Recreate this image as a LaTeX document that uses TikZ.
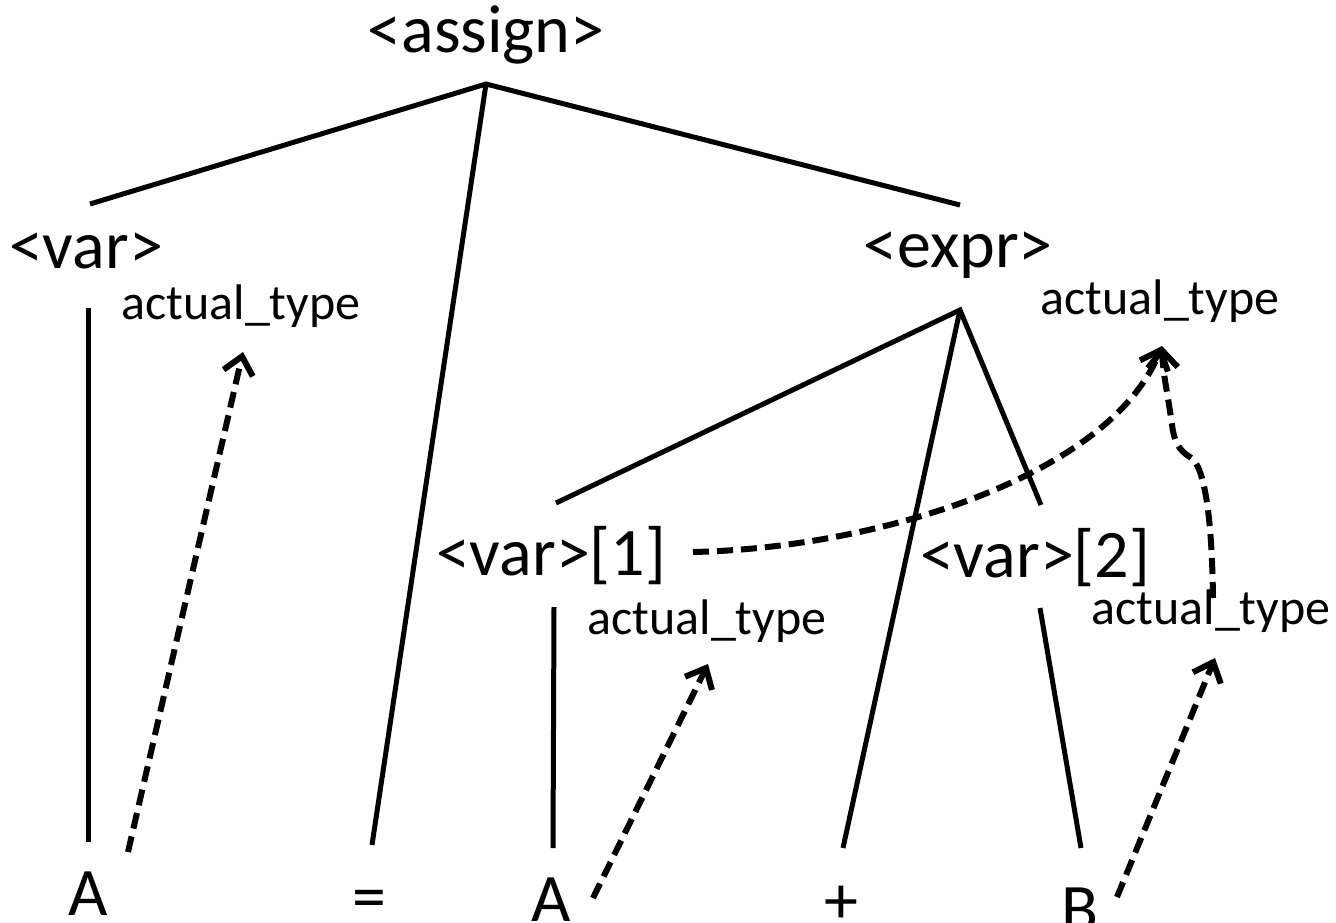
\documentclass[tikz,border=0pt]{standalone}
\usepackage{fontspec}
\setmainfont{Carlito}
\usetikzlibrary{arrows.meta}
\begin{document}
\begin{tikzpicture}[x=1pt,y=-1pt,
  big/.style={anchor=base,inner sep=0pt,font=\fontsize{68}{80}\selectfont},
  small/.style={anchor=base,inner sep=0pt,font=\fontsize{50}{60}\selectfont},
  edge/.style={line width=5pt,line join=miter},
  depline/.style={line width=6pt,dash pattern=on 16pt off 8pt},
  dep/.style={depline,-{Straight Barb[length=17pt,width=30pt,line width=6pt]}}]
\useasboundingbox (0,0) rectangle (1336,923);
% text nodes
\node[big] (assign) at (486,53) {<assign>};
\node[big] (var) at (86,268) {<var>};
\node[big] (expr) at (958,267) {<expr>};
\node[big] (var1) at (551,575) {<var>[1]};
\node[big] (var2) at (1035,577) {<var>[2]};
\node[small] (at0) at (241,319) {actual\_type};
\node[small] (at1) at (1160,314) {actual\_type};
\node[small] (at2) at (707,634) {actual\_type};
\node[small] (at3) at (1211,624) {actual\_type};
\node[big] (A1) at (88,915) {A};
\node[big] (eq) at (369,919) {=};
\node[big] (A2) at (551,921) {A};
\node[big] (plus) at (841,923) {+};
\node[big] (B) at (1080,931) {B};
% connector end points
\coordinate (assign-s) at (486,84);
\coordinate (var-n) at (90,204);
\coordinate (eq-n) at (372,845);
\coordinate (expr-n) at (960,205);
\coordinate (var-s) at (88,308);
\coordinate (A1-n) at (88,842);
\coordinate (expr-s) at (960,310);
\coordinate (var1-n) at (556,503);
\coordinate (plus-n) at (843,848);
\coordinate (var2-n) at (1041,505);
\coordinate (var1-s) at (554,607);
\coordinate (A2-n) at (553,848);
\coordinate (var2-s) at (1040,608);
\coordinate (B-n) at (1081,848);
\coordinate (A1-ne) at (128,852);
\coordinate (at0-s) at (243,352);
\coordinate (A2-ne) at (593,898);
\coordinate (at2-s) at (708,664);
\coordinate (B-ne) at (1117,897);
\coordinate (at3-s) at (1215,658);
\coordinate (var1-e) at (693,552);
\coordinate (at1-s) at (1162,346);
\coordinate (at3-n) at (1213,598);
\coordinate (hook) at (1190,457);
% tree edges
\draw[edge] (var-n) -- (assign-s) -- (expr-n);
\draw[edge] (assign-s) -- (eq-n);
\draw[edge] (var-s) -- (A1-n);
\draw[edge] (var1-n) -- (expr-s) -- (var2-n);
\draw[edge] (expr-s) -- (plus-n);
\draw[edge] (var1-s) -- (A2-n);
\draw[edge] (var2-s) -- (B-n);
% attribute flow
\draw[dep] (A1-ne) -- (at0-s);
\draw[dep] (A2-ne) -- (at2-s);
\draw[dep] (B-ne) -- (at3-s);
\draw[dep] (var1-e) .. controls (880,548) and (1110,475) .. (at1-s);
\draw[depline] (at3-n) .. controls (1212,520) and (1205,465) .. (hook);
\draw[dep] (hook) .. controls (1178,450) and (1174,440) .. (1172,425) .. controls (1168,395) and (1163,375) .. (at1-s);
\end{tikzpicture}
\end{document}
